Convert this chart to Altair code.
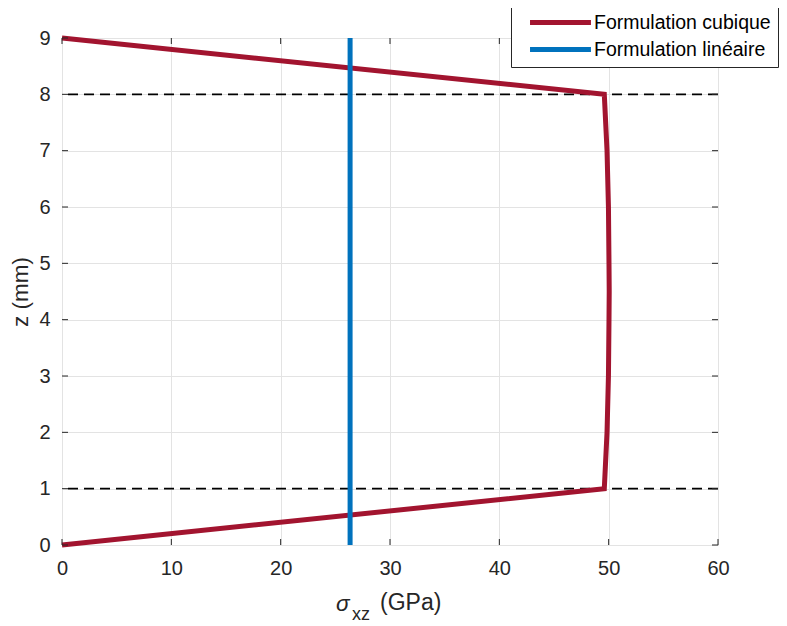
import altair as alt
import pandas as pd

# ---- data ----
cubic_z = [0.0, 1.0, 2.0, 3.0, 4.0, 4.5, 5.0, 6.0, 7.0, 8.0, 9.0]
cubic_s = [0.0, 49.6, 49.85, 49.98, 50.03, 50.05, 50.03, 49.98, 49.85, 49.6, 0.0]
lin_z = [0.0, 9.0]
lin_s = [26.35, 26.35]
interfaces = [1, 8]
x_ticks = [0, 10, 20, 30, 40, 50, 60]
y_ticks = [0, 1, 2, 3, 4, 5, 6, 7, 8, 9]
series_names = ["Formulation cubique", "Formulation linéaire"]
series_colors = ["#A2142F", "#0072BD"]

FONT = "Liberation Sans"
TXT = "#262626"
FS = 20
TFS = 22.5

rows = []
for i, (z, s) in enumerate(zip(cubic_z, cubic_s)):
    rows.append({"serie": series_names[0], "z": z, "s": s, "o": i})
for i, (z, s) in enumerate(zip(lin_z, lin_s)):
    rows.append({"serie": series_names[1], "z": z, "s": s, "o": i})
df = pd.DataFrame(rows)

xscale = alt.Scale(domain=[0, 60], nice=False, zero=False)
yscale = alt.Scale(domain=[0, 9], nice=False, zero=False)

xaxis = alt.Axis(values=x_ticks, title=None, grid=True, gridColor="#e3e3e3",
                 ticks=False, domain=False, labelFont=FONT, labelFontSize=FS,
                 labelColor=TXT, labelPadding=13, format="d", labelFlush=False)
yaxis = alt.Axis(values=y_ticks, title="z (mm)", grid=True, gridColor="#e3e3e3",
                 ticks=False, domain=False, labelFont=FONT, labelFontSize=FS,
                 labelColor=TXT, labelPadding=12, format="d", labelFlush=False,
                 titleFont=FONT, titleFontSize=TFS, titleFontWeight="normal",
                 titleColor=TXT, titlePadding=6)

base = alt.Chart(df)

dash = alt.Chart(pd.DataFrame({"z": interfaces})).mark_rule(
    color="black", strokeWidth=1.6, strokeDash=[10, 6]
).encode(y=alt.Y("z:Q", scale=yscale, axis=yaxis))

lines = base.mark_line(strokeWidth=5, strokeCap="butt", strokeJoin="miter").encode(
    x=alt.X("s:Q", scale=xscale, axis=xaxis),
    y=alt.Y("z:Q", scale=yscale, axis=yaxis),
    order="o:Q",
    color=alt.Color("serie:N",
                    scale=alt.Scale(domain=series_names, range=series_colors),
                    legend=alt.Legend(title=None, orient="none", legendX=449,
                                      legendY=-33, symbolType="M0.2,0H8.2",
                                      symbolSize=232, symbolStrokeWidth=5,
                                      labelFont=FONT, labelFontSize=19.5,
                                      labelColor="black", labelOffset=55,
                                      rowPadding=6, padding=7,
                                      strokeColor=TXT, fillColor="white",
                                      labelLimit=400)),
)

# inward tick marks (MATLAB box style)
xt = pd.DataFrame({"v": x_ticks})
yt = pd.DataFrame({"v": y_ticks})
tick_style = dict(color=TXT, strokeWidth=1)
xb = alt.Chart(xt).mark_rule(**tick_style).encode(
    x=alt.X("v:Q", scale=xscale), y=alt.value(507), y2=alt.value(501))
xtp = alt.Chart(xt).mark_rule(**tick_style).encode(
    x=alt.X("v:Q", scale=xscale), y=alt.value(0), y2=alt.value(6))
yl = alt.Chart(yt).mark_rule(**tick_style).encode(
    y=alt.Y("v:Q", scale=yscale), x=alt.value(0), x2=alt.value(6))
yr = alt.Chart(yt).mark_rule(**tick_style).encode(
    y=alt.Y("v:Q", scale=yscale), x=alt.value(656), x2=alt.value(650))

# x-axis title with subscript
t_sigma = alt.Chart(pd.DataFrame({"t": ["σ"]})).mark_text(
    font=FONT, fontSize=TFS, fontStyle="italic", color=TXT, align="left",
    baseline="alphabetic").encode(text="t:N", x=alt.value(274), y=alt.value(573))
t_sub = alt.Chart(pd.DataFrame({"t": ["xz"]})).mark_text(
    font=FONT, fontSize=18, color=TXT, align="left",
    baseline="alphabetic").encode(text="t:N", x=alt.value(290), y=alt.value(582))
t_unit = alt.Chart(pd.DataFrame({"t": ["(GPa)"]})).mark_text(
    font=FONT, fontSize=23, color=TXT, align="left",
    baseline="alphabetic").encode(text="t:N", x=alt.value(318), y=alt.value(572))

chart = alt.layer(dash, lines, xb, xtp, yl, yr, t_sigma, t_sub, t_unit).properties(
    width=656, height=507,
    autosize=alt.AutoSizeParams(type="none"),
    padding={"left": 54, "top": 30, "right": 61, "bottom": 80},
).configure_view(stroke=TXT, strokeWidth=1).configure(background="white")

chart.save("out.html", embed_options={"renderer": "svg", "actions": False})
